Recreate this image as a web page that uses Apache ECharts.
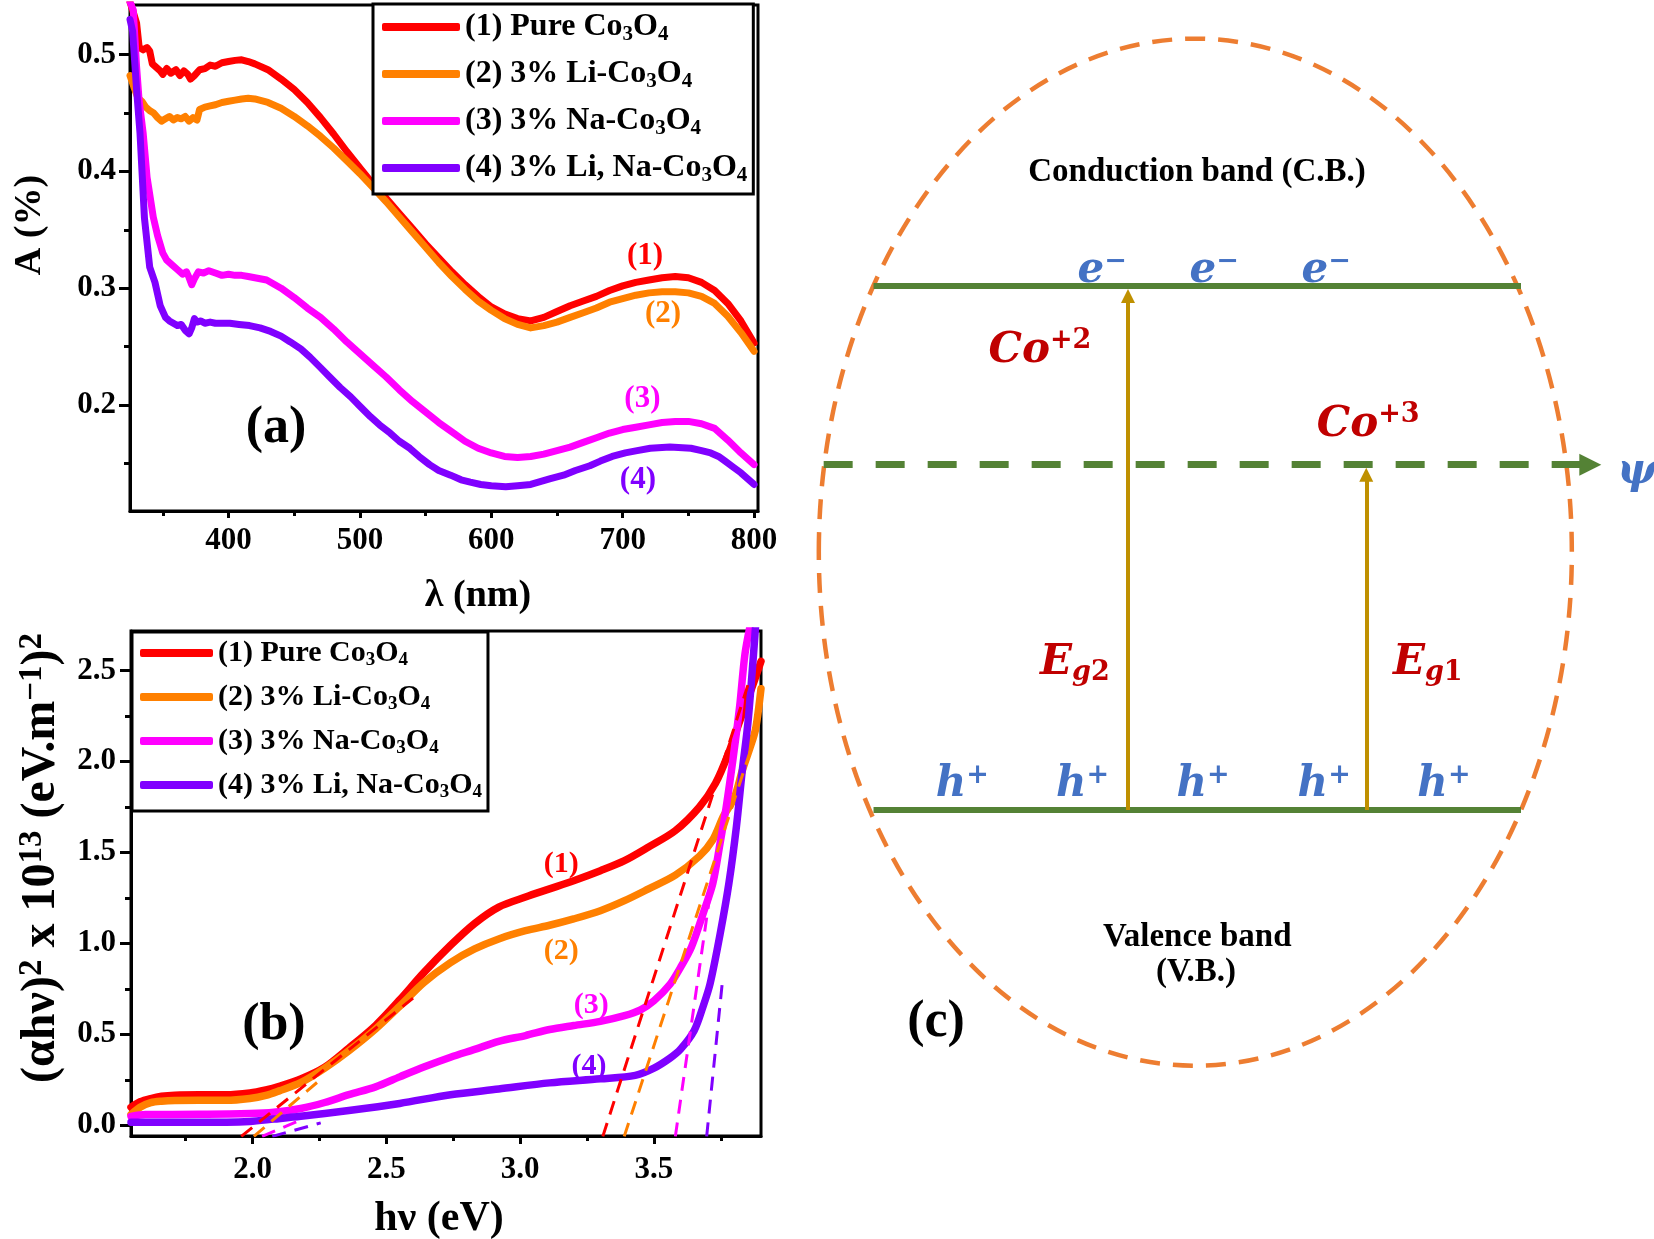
<!DOCTYPE html>
<html><head><meta charset="utf-8">
<script src="https://cdn.jsdelivr.net/npm/echarts@6/dist/echarts.min.js"></script>
<style>html,body{margin:0;padding:0;background:#fff}#c{width:1654px;height:1239px}</style>
</head><body><div id="c"></div>
<script>
// ---------------- data ----------------
const legendLabels = ['(1) Pure Co{s|3}O{s|4}', '(2) 3% Li-Co{s|3}O{s|4}', '(3) 3% Na-Co{s|3}O{s|4}', '(4) 3% Li, Na-Co{s|3}O{s|4}'];
const seriesColors = ['#FF0000', '#FF8000', '#FF00FF', '#8000FF'];

// panel (a): absorbance vs wavelength
const absTickValues = [400, 500, 600, 700, 800];
const absMinorTicks = [350, 450, 550, 650, 750];
const absYTicks = [0.2, 0.3, 0.4, 0.5];
const absYMinor = [0.15, 0.25, 0.35, 0.45];
const absPure = [[325,0.545],[327,0.538],[330,0.527],[332,0.506],[335,0.504],[338,0.506],[340,0.503],[342,0.492],[345,0.489],[348,0.486],[350,0.483],[353,0.488],[356,0.484],[360,0.487],[363,0.482],[366,0.486],[369,0.483],[371,0.479],[374,0.482],[378,0.487],[382,0.488],[386,0.491],[390,0.490],[395,0.493],[400,0.494],[405,0.495],[410,0.4955],[415,0.494],[420,0.492],[430,0.487],[440,0.479],[450,0.470],[460,0.459],[470,0.446],[480,0.432],[490,0.417],[500,0.403],[510,0.389],[520,0.377],[530,0.364],[540,0.351],[550,0.338],[560,0.326],[570,0.314],[580,0.303],[590,0.293],[600,0.284],[610,0.278],[620,0.274],[630,0.272],[640,0.275],[650,0.280],[660,0.285],[670,0.289],[680,0.293],[690,0.298],[700,0.302],[710,0.305],[720,0.307],[730,0.309],[740,0.310],[750,0.309],[760,0.305],[770,0.298],[780,0.287],[790,0.272],[800,0.253]];
const absLi = [[325,0.482],[328,0.472],[331,0.463],[334,0.460],[337,0.455],[340,0.452],[343,0.450],[346,0.446],[349,0.443],[352,0.445],[355,0.447],[358,0.444],[361,0.446],[364,0.445],[367,0.447],[370,0.443],[373,0.446],[376,0.444],[378,0.453],[382,0.455],[386,0.456],[390,0.457],[395,0.459],[400,0.460],[405,0.461],[410,0.462],[415,0.4625],[420,0.462],[430,0.459],[440,0.454],[450,0.447],[460,0.439],[470,0.430],[480,0.420],[490,0.409],[500,0.398],[510,0.386],[520,0.374],[530,0.361],[540,0.348],[550,0.335],[560,0.322],[570,0.310],[580,0.299],[590,0.289],[600,0.281],[610,0.274],[620,0.269],[630,0.266],[640,0.268],[650,0.271],[660,0.275],[670,0.279],[680,0.283],[690,0.288],[700,0.291],[710,0.294],[720,0.296],[730,0.297],[740,0.297],[750,0.296],[760,0.293],[770,0.287],[780,0.276],[790,0.262],[800,0.246]];
const absNa = [[325,0.545],[327.5,0.538],[330,0.49],[332,0.46],[335,0.433],[338,0.395],[342.7,0.361],[346,0.345],[350,0.330],[353,0.324],[357,0.320],[361,0.316],[365,0.312],[368,0.314],[370,0.309],[372,0.303],[374,0.308],[377,0.314],[381,0.313],[385,0.315],[390,0.313],[395,0.311],[400,0.312],[405,0.311],[410,0.311],[415,0.310],[420,0.309],[429,0.307],[440,0.300],[450,0.292],[460,0.283],[470,0.275],[480,0.265],[490,0.254],[500,0.244],[510,0.234],[520,0.224],[530,0.213],[540,0.203],[550,0.194],[560,0.185],[570,0.177],[580,0.169],[590,0.163],[600,0.159],[610,0.156],[620,0.155],[630,0.156],[640,0.158],[650,0.161],[660,0.164],[670,0.168],[680,0.172],[690,0.176],[700,0.179],[710,0.181],[720,0.183],[730,0.185],[740,0.186],[750,0.186],[760,0.184],[770,0.180],[780,0.170],[790,0.159],[800,0.149]];
const absLiNa = [[325,0.53],[327,0.52],[330,0.47],[332.6,0.433],[336,0.36],[340,0.318],[344,0.305],[348,0.285],[352,0.275],[355,0.272],[358,0.270],[361,0.268],[364,0.269],[367,0.264],[370,0.261],[372,0.266],[374,0.274],[376,0.271],[379,0.272],[382,0.270],[386,0.271],[390,0.270],[395,0.270],[401,0.270],[408,0.269],[416,0.268],[424,0.266],[432,0.263],[440,0.259],[447,0.254],[455,0.248],[462,0.241],[470,0.232],[477,0.224],[485,0.215],[493,0.207],[500,0.199],[508,0.190],[515,0.183],[523,0.176],[530,0.169],[538,0.163],[545,0.156],[553,0.149],[560,0.144],[569,0.140],[577,0.136],[584,0.134],[592,0.132],[600,0.131],[611,0.130],[620,0.131],[630,0.132],[645,0.137],[655,0.140],[664,0.144],[675,0.148],[683,0.152],[692,0.156],[702,0.159],[711,0.161],[721,0.163],[736,0.164],[752,0.163],[760,0.161],[767,0.159],[773,0.156],[778,0.152],[784,0.147],[790,0.142],[795,0.137],[800,0.132]];
const absNotes = [['(1)',717,0.3275],['(2)',730.7,0.278],['(3)',715,0.205],['(4)',711.6,0.136]];
const absPanelTag = ['(a)',436.2,0.1796];

// panel (b): Tauc plot
const taucXTicks = [2.0, 2.5, 3.0, 3.5];
const taucXMinor = [1.75, 2.25, 2.75, 3.25, 3.75];
const taucYTicks = [0, 0.5, 1.0, 1.5, 2.0, 2.5];
const taucYMinor = [0.25, 0.75, 1.25, 1.75, 2.25];
const taucPure = [[1.546,0.10],[1.58,0.13],[1.62,0.148],[1.66,0.160],[1.71,0.166],[1.80,0.168],[1.90,0.168],[1.99,0.178],[2.05,0.195],[2.10,0.215],[2.18,0.255],[2.27,0.32],[2.36,0.425],[2.46,0.55],[2.55,0.69],[2.64,0.84],[2.74,0.99],[2.83,1.11],[2.92,1.20],[3.02,1.255],[3.11,1.30],[3.20,1.345],[3.30,1.40],[3.39,1.455],[3.48,1.53],[3.58,1.62],[3.67,1.75],[3.73,1.88],[3.78,2.05],[3.82,2.22],[3.86,2.38],[3.90,2.55]];
const taucLi = [[1.546,0.06],[1.58,0.10],[1.62,0.125],[1.66,0.133],[1.71,0.137],[1.80,0.138],[1.90,0.138],[1.99,0.148],[2.05,0.165],[2.10,0.19],[2.18,0.235],[2.27,0.315],[2.36,0.41],[2.46,0.53],[2.55,0.655],[2.64,0.785],[2.74,0.895],[2.83,0.97],[2.92,1.025],[3.02,1.07],[3.11,1.10],[3.20,1.135],[3.30,1.18],[3.39,1.235],[3.48,1.30],[3.58,1.375],[3.67,1.48],[3.72,1.57],[3.76,1.70],[3.80,1.80],[3.83,1.95],[3.86,2.08],[3.88,2.18],[3.90,2.40]];
const taucNa = [[1.546,0.05],[1.60,0.06],[1.80,0.061],[1.99,0.065],[2.08,0.072],[2.18,0.093],[2.27,0.126],[2.36,0.169],[2.46,0.212],[2.55,0.267],[2.64,0.321],[2.74,0.375],[2.83,0.418],[2.92,0.462],[3.02,0.494],[3.11,0.527],[3.20,0.549],[3.30,0.572],[3.39,0.603],[3.45,0.635],[3.50,0.685],[3.56,0.776],[3.60,0.87],[3.64,0.98],[3.685,1.17],[3.72,1.33],[3.747,1.55],[3.77,1.75],[3.796,2.02],[3.82,2.30],[3.84,2.59],[3.86,2.75]];
const taucLiNa = [[1.546,0.017],[1.80,0.017],[1.99,0.022],[2.08,0.035],[2.18,0.05],[2.36,0.082],[2.55,0.121],[2.74,0.169],[2.92,0.20],[3.11,0.234],[3.30,0.256],[3.43,0.275],[3.50,0.315],[3.56,0.37],[3.60,0.42],[3.65,0.52],[3.685,0.66],[3.71,0.78],[3.747,1.05],[3.78,1.33],[3.808,1.64],[3.83,1.95],[3.851,2.21],[3.87,2.55],[3.88,2.75]];
const tangentsLow = [[[1.958,-0.06],[2.60,0.70]], [[2.005,-0.06],[2.26,0.26]], [[2.036,-0.06],[2.18,0.03]], [[2.074,-0.06],[2.255,0.014]]];
const tangentsHigh = [[[3.309,-0.06],[3.851,2.42]], [[3.389,-0.06],[3.894,2.21]], [[3.580,-0.06],[3.709,1.265]], [[3.697,-0.06],[3.756,0.794]]];
const taucNotes = [['(1)',3.154,1.437],['(2)',3.154,0.956],['(3)',3.266,0.662],['(4)',3.257,0.324]];
const taucPanelTag = ['(b)',2.08,0.547];

// panel (c): band diagram (energy in units of CB-VB gap, x in units of band width)
const bandSegments = [[[0,1],[1,1]], [[0,0],[1,0]]];
const psiLevel = [[-0.077,0.659],[1.107,0.659]];
const transitions = [[[0.393,0],[0.393,0.981]], [[0.761,0],[0.761,0.64]]];
const zoneEllipse = [[0.497,0.492,0.5815,0.98]];
const electronX = [0.353, 0.526, 0.699];
const electronY = 1.0286;
const holeX = [0.137, 0.323, 0.509, 0.696, 0.881];
const holeY = 0.0477;
const diagramTexts = [
  ['Conduction band (C.B.)', 0.4996, 1.216, 'band'],
  ['Valence band', 0.5, -0.2435, 'band'],
  ['(V.B.)', 0.498, -0.311, 'band'],
  ['(c)', 0.0965, -0.4065, 'tag'],
  ['{m|Co}{p|+2}', 0.257, 0.876, 'ion'],
  ['{m|Co}{p|+3}', 0.764, 0.735, 'ion'],
  ['{m|E}{q|g}{b|2}', 0.311, 0.28, 'ion'],
  ['{m|E}{q|g}{b|1}', 0.856, 0.28, 'ion'],
  ['{m|ψ}', 1.179, 0.645, 'carrier']
];

// ---------------- chart ----------------
const SERIF = 'Liberation Serif';
const MATH = 'DejaVu Serif';
const chart = echarts.init(document.getElementById('c'), null, {renderer: 'canvas', width: 1654, height: 1239});

const tickLabel = {fontSize: 31, fontWeight: 'bold', fontFamily: SERIF, color: '#000'};
function mainAxis(grid, pos, min, max, ticks, len, margin, fmt, extra) {
  return Object.assign({
    gridIndex: grid, position: pos, type: 'value', min: min, max: max,
    axisLine: {show: true, onZero: false, lineStyle: {color: '#000', width: 3}},
    axisTick: {show: true, customValues: ticks, length: len, lineStyle: {color: '#000', width: 3}},
    axisLabel: Object.assign({customValues: ticks, margin: margin, formatter: fmt}, tickLabel),
    splitLine: {show: false}
  }, extra || {});
}
function minorAxis(grid, pos, min, max, ticks, len) {
  return {
    gridIndex: grid, position: pos, offset: 0, type: 'value', min: min, max: max,
    axisLine: {show: false, onZero: false},
    axisTick: {show: true, customValues: ticks, length: len, lineStyle: {color: '#000', width: 3}},
    axisLabel: {show: false}, splitLine: {show: false}
  };
}
const f0 = v => String(Math.round(v));
const f1 = v => v.toFixed(1);

const xAxis = [
  mainAxis(0, 'bottom', 325, 803, absTickValues, 7, 14, f0, {
    name: 'λ (nm)', nameLocation: 'middle', nameGap: 66,
    nameTextStyle: {fontSize: 38, fontWeight: 'bold', fontFamily: SERIF, color: '#000', padding: [0, 0, 0, 68]}
  }),
  minorAxis(0, 'bottom', 325, 803, absMinorTicks, 5),
  mainAxis(1, 'bottom', 1.546, 3.90, taucXTicks, 8, 18, f1, {
    name: 'hν (eV)', nameLocation: 'middle', nameGap: 62,
    nameTextStyle: {fontSize: 42, fontWeight: 'bold', fontFamily: SERIF, color: '#000', padding: [0, 14, 0, 0]}
  }),
  minorAxis(1, 'bottom', 1.546, 3.90, taucXMinor, 5),
  {gridIndex: 2, type: 'value', min: -0.15, max: 1.2, show: false}
];
const yAxis = [
  mainAxis(0, 'left', 0.1093, 0.5424, absYTicks, 11, 14, f1, {
    name: 'A (%)', nameLocation: 'middle', nameGap: 81,
    nameTextStyle: {fontSize: 38, fontWeight: 'bold', fontFamily: SERIF, color: '#000', padding: [0, 0, 0, 66]}
  }),
  minorAxis(0, 'left', 0.1093, 0.5424, absYMinor, 6),
  mainAxis(1, 'left', -0.058, 2.717, taucYTicks, 11, 15, f1, {
    name: '(αhν){sup|2} x 10{sup|13} (eV.m{sup|−1}){sup|2}', nameLocation: 'middle', nameGap: 63,
    nameTextStyle: {fontSize: 48, fontWeight: 'bold', fontFamily: SERIF, color: '#000', lineHeight: 52, padding: [0, 0, 0, 51],
      rich: {sup: {fontSize: 33, fontWeight: 'bold', fontFamily: SERIF, color: '#000', lineHeight: 33, verticalAlign: 'top'}}}
  }),
  minorAxis(1, 'left', -0.058, 2.717, taucYMinor, 6),
  {gridIndex: 2, type: 'value', min: -0.8, max: 1.5, show: false}
];

const series = [];
// panel (a) curves
[absPure, absLi, absNa, absLiNa].forEach((d, i) => series.push({
  type: 'line', name: 'a' + (i + 1), xAxisIndex: 0, yAxisIndex: 0, data: d, symbol: 'none',
  lineStyle: {width: 7, color: seriesColors[i], cap: 'round', join: 'round'},
  itemStyle: {color: seriesColors[i]}, z: 2 + i, silent: true
}));
// panel (b) curves
[taucPure, taucLi, taucNa, taucLiNa].forEach((d, i) => series.push({
  type: 'line', name: 'b' + (i + 1), xAxisIndex: 2, yAxisIndex: 2, data: d, symbol: 'none', smooth: 0.3,
  lineStyle: {width: 7.5, color: seriesColors[i], cap: 'round', join: 'round'},
  itemStyle: {color: seriesColors[i]}, z: 2 + i, silent: true
}));
// panel (b) tangents
tangentsLow.concat(tangentsHigh).forEach((d, k) => series.push({
  type: 'line', xAxisIndex: 2, yAxisIndex: 2, data: d, symbol: 'none',
  lineStyle: {width: 3, color: seriesColors[k % 4], type: [14, 9]}, z: 10, silent: true
}));

const plainLabel = {show: true, position: 'inside', textBorderWidth: 0, textBorderColor: 'transparent', textShadowBlur: 0, opacity: 1};
function noteSeries(xi, yi, notes, tag, noteSize, tagSize) {
  const data = notes.map((n, i) => ({value: [n[1], n[2]], label: {formatter: n[0], color: seriesColors[i], fontSize: noteSize}}));
  data.push({value: [tag[1], tag[2]], label: {formatter: tag[0], color: '#000', fontSize: tagSize}});
  return {type: 'scatter', xAxisIndex: xi, yAxisIndex: yi, symbolSize: 1, itemStyle: {color: 'rgba(255,255,255,0)'},
    label: Object.assign({fontWeight: 'bold', fontFamily: SERIF}, plainLabel), data: data, z: 20, silent: true};
}
series.push(noteSeries(0, 0, absNotes, absPanelTag, 31, 52));
series.push(noteSeries(2, 2, taucNotes, taucPanelTag, 30, 52));

// panel (c)
series.push({
  type: 'custom', xAxisIndex: 4, yAxisIndex: 4, data: zoneEllipse, silent: true, clip: false, z: 1,
  renderItem: (params, api) => {
    const c = api.coord([api.value(0), api.value(1)]);
    const s = api.size([api.value(2), api.value(3)]);
    return {type: 'ellipse', shape: {cx: c[0], cy: c[1], rx: s[0], ry: s[1]},
      style: {fill: 'transparent', stroke: '#ED7D31', lineWidth: 4.5, lineDash: [20, 13]}};
  }
});
series.push({type: 'lines', coordinateSystem: 'cartesian2d', xAxisIndex: 4, yAxisIndex: 4, silent: true, z: 3,
  data: bandSegments.map(c => ({coords: c})), lineStyle: {color: '#548235', width: 6, opacity: 1}});
series.push({type: 'lines', coordinateSystem: 'cartesian2d', xAxisIndex: 4, yAxisIndex: 4, silent: true, z: 3,
  data: [{coords: psiLevel}], symbol: ['none', 'triangle'], symbolSize: [21, 22],
  lineStyle: {color: '#548235', width: 7, type: [29, 23], opacity: 1}});
series.push({type: 'lines', coordinateSystem: 'cartesian2d', xAxisIndex: 4, yAxisIndex: 4, silent: true, z: 4,
  data: transitions.map(c => ({coords: c})), symbol: ['none', 'triangle'], symbolSize: [14, 14],
  lineStyle: {color: '#BF9000', width: 4, opacity: 1}});

const blue = '#4472C4', dred = '#C00000';
const carrierRich = (col) => ({
  m: {fontFamily: MATH, fontStyle: 'italic', fontWeight: 'bold', fontSize: 42, color: col, lineHeight: 46},
  p: {fontFamily: MATH, fontWeight: 'bold', fontSize: 27, color: col, lineHeight: 27, verticalAlign: 'top'},
  q: {fontFamily: MATH, fontStyle: 'italic', fontWeight: 'bold', fontSize: 27, color: col, lineHeight: 27, verticalAlign: 'bottom'},
  b: {fontFamily: MATH, fontWeight: 'bold', fontSize: 27, color: col, lineHeight: 27, verticalAlign: 'bottom'}
});
const textData = [];
electronX.forEach(x => textData.push({value: [x, electronY], label: {formatter: '{m|e}{p|−}', rich: carrierRich(blue)}}));
holeX.forEach(x => textData.push({value: [x, holeY], label: {formatter: '{m|h}{p|+}', rich: carrierRich(blue)}}));
diagramTexts.forEach(t => {
  let lab;
  if (t[3] === 'band') lab = {formatter: t[0], fontSize: 33, fontWeight: 'bold', fontFamily: SERIF, color: '#000'};
  else if (t[3] === 'tag') lab = {formatter: t[0], fontSize: 52, fontWeight: 'bold', fontFamily: SERIF, color: '#000'};
  else if (t[3] === 'ion') lab = {formatter: t[0], rich: carrierRich(dred)};
  else lab = {formatter: t[0], rich: carrierRich(blue)};
  textData.push({value: [t[1], t[2]], label: lab});
});
series.push({type: 'scatter', xAxisIndex: 4, yAxisIndex: 4, symbolSize: 1, itemStyle: {color: 'rgba(255,255,255,0)'},
  label: plainLabel, data: textData, z: 20, silent: true});

function legendFor(prefix, left, top, pad, gap, iw, fs, sub, lh) {
  return {
    data: [1, 2, 3, 4].map(i => prefix + i), orient: 'vertical', left: left, top: top,
    padding: pad, itemGap: gap, itemWidth: iw, itemHeight: 8, icon: 'roundRect',
    borderColor: '#000', borderWidth: 3, backgroundColor: '#fff', selectedMode: false,
    formatter: name => legendLabels[Number(name.slice(1)) - 1],
    textStyle: {fontSize: fs, fontWeight: 'bold', fontFamily: SERIF, color: '#000', lineHeight: lh,
      rich: {s: {fontSize: sub, fontWeight: 'bold', fontFamily: SERIF, color: '#000', lineHeight: sub, verticalAlign: 'bottom'}}}
  };
}

chart.setOption({
  animation: false,
  backgroundColor: '#fff',
  textStyle: {fontFamily: SERIF},
  grid: [
    {left: 130, top: 5, width: 628, height: 506, show: true, borderColor: '#000', borderWidth: 3, backgroundColor: 'transparent', outerBoundsMode: 'none', containLabel: false},
    {left: 131, top: 631, width: 630, height: 505, show: true, borderColor: '#000', borderWidth: 3, backgroundColor: 'transparent', outerBoundsMode: 'none', containLabel: false},
    {left: 776.4, top: 24, width: 874.1, height: 1205.2, show: false, outerBoundsMode: 'none', containLabel: false}
  ],
  legend: [
    legendFor('a', 373, 4, [5, 6, 8, 9], 11, 78, 32, 21, 36),
    legendFor('b', 132, 632, [4, 6, 9, 8], 10, 73, 30, 19, 34)
  ],
  xAxis: xAxis,
  yAxis: yAxis,
  series: series
});
</script></body></html>
